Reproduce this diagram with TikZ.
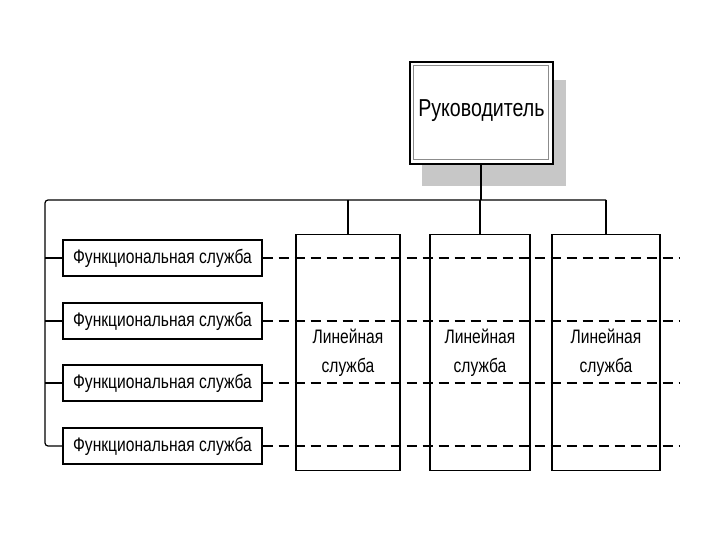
\documentclass[tikz,border=0pt]{standalone}
\usepackage{fontspec}
\setmainfont{Liberation Sans}[FakeStretch=0.8]
\begin{document}
\begin{tikzpicture}[x=1pt,y=-1pt,
  box/.style={draw,line width=1.3pt,fill=white,inner sep=0pt},
  func/.style={box,minimum width=199pt,minimum height=36pt,font=\fontsize{19.5}{22}\selectfont},
  lin/.style={box,minimum height=236pt,anchor=north},
  lintxt/.style={font=\fontsize{19.5}{29}\selectfont,align=center},
  conn/.style={line width=1.2pt},
  dashline/.style={line width=1.6pt,dash pattern=on 10pt off 6pt}]
\useasboundingbox (0,0) rectangle (720,540);
% shadow
\fill[black!22] (422,80) rectangle (566,186);
% head
\node[box,line width=1.8pt,minimum width=143pt,minimum height=102pt,anchor=north west] (head) at (409,61) {};
\draw[black!45,line width=0.8pt] (413,65) rectangle (548,159);
\node[font=\fontsize{24.5}{28}\selectfont] (headtxt) at ([yshift=2pt]head.center) {Руководитель};
% linear boxes
\node[lin,minimum width=104pt] (l1) at (348,234) {};
\node[lin,minimum width=100pt] (l2) at (480,234) {};
\node[lin,minimum width=108pt] (l3) at (606,234) {};
\node[lintxt] (t1) at (348,353) {Линейная\\служба};
\node[lintxt] (t2) at (480,353) {Линейная\\служба};
\node[lintxt] (t3) at (606,353) {Линейная\\служба};
% functional boxes
\node[func] (f1) at (162.5,258) {Функциональная служба};
\node[func] (f2) at (162.5,321) {Функциональная служба};
\node[func] (f3) at (162.5,383) {Функциональная служба};
\node[func] (f4) at (162.5,446) {Функциональная служба};
% bus
\coordinate (bl) at (45,200);
\coordinate (br) at (606,200);
\coordinate (bh) at (481,200);
\draw[conn] (head.south -| bh) -- (bh);
\draw[conn,rounded corners=3pt] (br) -- (bl) -- (bl |- f4.west) -- (f4.west);
\draw[conn] (bl |- f1.west) -- (f1.west);
\draw[conn] (bl |- f2.west) -- (f2.west);
\draw[conn] (bl |- f3.west) -- (f3.west);
\draw[conn] (l1.north |- bl) -- (l1.north);
\draw[conn] (l2.north |- bl) -- (l2.north);
\draw[conn] (l3.north |- bl) -- (l3.north);
% dashed lines
\coordinate (e1) at (680,258);
\coordinate (e2) at (680,321);
\coordinate (e3) at (680,383);
\coordinate (e4) at (680,446);
\draw[dashline] (f1.east) -- (e1);
\draw[dashline] (f2.east) -- (e2);
\draw[dashline] (f3.east) -- (e3);
\draw[dashline] (f4.east) -- (e4);
\end{tikzpicture}
\end{document}
